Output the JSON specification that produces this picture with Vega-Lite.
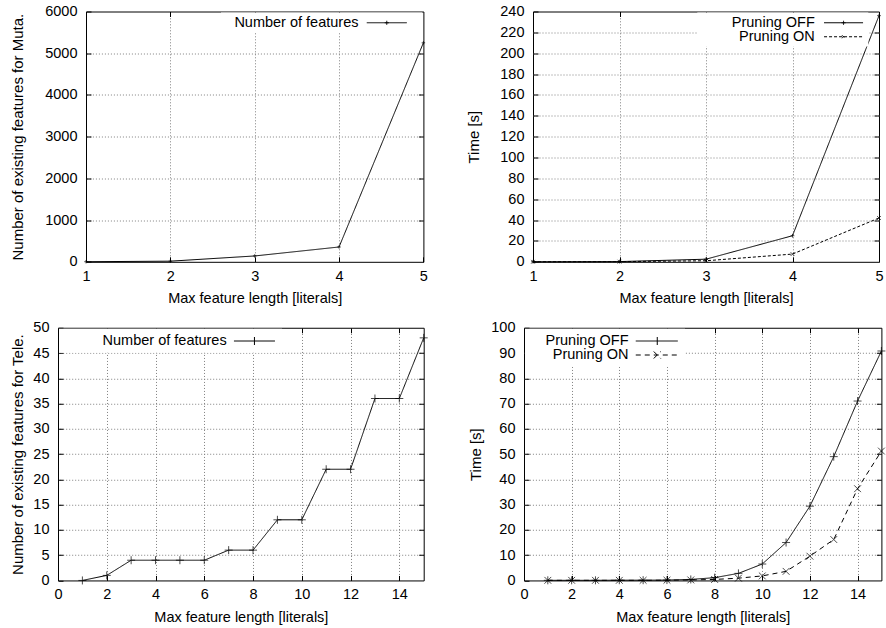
{
  "$schema": "https://vega.github.io/schema/vega-lite/v6.json",
  "padding": {"left": 0, "top": 2.5, "right": 0, "bottom": 0},
  "background": "white",
  "config": {
    "font": "Liberation Sans",
    "view": {"stroke": "black", "strokeWidth": 1},
    "axis": {
      "labelFont": "Liberation Sans", "labelFontSize": 14.5, "labelColor": "black",
      "titleFont": "Liberation Sans", "titleFontSize": 14.5, "titleFontWeight": "normal", "titleColor": "black",
      "domain": false, "grid": false, "ticks": true, "tickSize": -5, "tickColor": "black", "tickWidth": 1,
      "labelPadding": 14, "labelFlush": false, "labelOverlap": false,
      "gridColor": "#808080", "gridDash": [1, 2], "gridWidth": 1
    },
    "axisX": {"titlePadding": 9, "labelPadding": 12.5},
    "axisY": {"titleFontSize": 15},
    "legend": {"labelFont": "Liberation Sans", "labelFontSize": 14.5, "labelColor": "black", "labelAlign": "right", "symbolSize": 100, "rowPadding": -2.5, "fillColor": "white", "labelLimit": 400},
    "line": {"color": "black", "strokeWidth": 1},
    "point": {"color": "black", "filled": false, "strokeWidth": 1}
  },
  "datasets": {
    "muta": [
      {"len": 1, "value": 2, "series": "Number of features"},
      {"len": 2, "value": 15, "series": "Number of features"},
      {"len": 3, "value": 140, "series": "Number of features"},
      {"len": 4, "value": 355, "series": "Number of features"},
      {"len": 5, "value": 5250, "series": "Number of features"}
    ],
    "muta_time": [
      {"len": 1, "value": 0.05, "series": "Pruning OFF"},
      {"len": 2, "value": 0.2, "series": "Pruning OFF"},
      {"len": 3, "value": 2.5, "series": "Pruning OFF"},
      {"len": 4, "value": 25, "series": "Pruning OFF"},
      {"len": 5, "value": 236, "series": "Pruning OFF"},
      {"len": 1, "value": 0.05, "series": "Pruning ON"},
      {"len": 2, "value": 0.15, "series": "Pruning ON"},
      {"len": 3, "value": 1, "series": "Pruning ON"},
      {"len": 4, "value": 7.4, "series": "Pruning ON"},
      {"len": 5, "value": 42, "series": "Pruning ON"}
    ],
    "tele": [
      {"len": 1, "value": 0, "series": "Number of features"},
      {"len": 2, "value": 1, "series": "Number of features"},
      {"len": 3, "value": 4, "series": "Number of features"},
      {"len": 4, "value": 4, "series": "Number of features"},
      {"len": 5, "value": 4, "series": "Number of features"},
      {"len": 6, "value": 4, "series": "Number of features"},
      {"len": 7, "value": 6, "series": "Number of features"},
      {"len": 8, "value": 6, "series": "Number of features"},
      {"len": 9, "value": 12, "series": "Number of features"},
      {"len": 10, "value": 12, "series": "Number of features"},
      {"len": 11, "value": 22, "series": "Number of features"},
      {"len": 12, "value": 22, "series": "Number of features"},
      {"len": 13, "value": 36, "series": "Number of features"},
      {"len": 14, "value": 36, "series": "Number of features"},
      {"len": 15, "value": 48, "series": "Number of features"}
    ],
    "tele_time": [
      {"len": 1, "value": 0.05, "series": "Pruning OFF"},
      {"len": 2, "value": 0.05, "series": "Pruning OFF"},
      {"len": 3, "value": 0.05, "series": "Pruning OFF"},
      {"len": 4, "value": 0.1, "series": "Pruning OFF"},
      {"len": 5, "value": 0.1, "series": "Pruning OFF"},
      {"len": 6, "value": 0.15, "series": "Pruning OFF"},
      {"len": 7, "value": 0.4, "series": "Pruning OFF"},
      {"len": 8, "value": 1.1, "series": "Pruning OFF"},
      {"len": 9, "value": 2.8, "series": "Pruning OFF"},
      {"len": 10, "value": 6.5, "series": "Pruning OFF"},
      {"len": 11, "value": 15, "series": "Pruning OFF"},
      {"len": 12, "value": 29.4, "series": "Pruning OFF"},
      {"len": 13, "value": 49, "series": "Pruning OFF"},
      {"len": 14, "value": 71, "series": "Pruning OFF"},
      {"len": 15, "value": 90.8, "series": "Pruning OFF"},
      {"len": 1, "value": 0.05, "series": "Pruning ON"},
      {"len": 2, "value": 0.05, "series": "Pruning ON"},
      {"len": 3, "value": 0.05, "series": "Pruning ON"},
      {"len": 4, "value": 0.05, "series": "Pruning ON"},
      {"len": 5, "value": 0.05, "series": "Pruning ON"},
      {"len": 6, "value": 0.1, "series": "Pruning ON"},
      {"len": 7, "value": 0.2, "series": "Pruning ON"},
      {"len": 8, "value": 0.4, "series": "Pruning ON"},
      {"len": 9, "value": 0.9, "series": "Pruning ON"},
      {"len": 10, "value": 1.8, "series": "Pruning ON"},
      {"len": 11, "value": 3.6, "series": "Pruning ON"},
      {"len": 12, "value": 9.6, "series": "Pruning ON"},
      {"len": 13, "value": 16.2, "series": "Pruning ON"},
      {"len": 14, "value": 36.3, "series": "Pruning ON"},
      {"len": 15, "value": 51.2, "series": "Pruning ON"}
    ]
  },
  "columns": 1,
  "align": "none",
  "spacing": 12.25,
  "resolve": {"scale": {"strokeDash": "independent", "shape": "independent"}, "legend": {"strokeDash": "independent", "shape": "independent"}},
  "concat": [
    {
      "columns": 4,
      "align": "none",
      "spacing": 9,
      "resolve": {"scale": {"strokeDash": "independent", "shape": "independent"}, "legend": {"strokeDash": "independent", "shape": "independent"}},
      "concat": [
        {"width": 1, "height": 1, "data": {"values": []}, "mark": "point", "view": {"stroke": null}},
        {
          "width": 337.4, "height": 250.3,
          "data": {"name": "muta"},
          "layer": [
            {
              "mark": {"type": "line"},
              "encoding": {
                "x": {"field": "len", "type": "quantitative", "scale": {"domain": [1, 5], "nice": false, "zero": false}, "axis": {"orient": "bottom", "values": [1, 2, 3, 4, 5], "format": "d", "title": "Max feature length [literals]"}},
                "y": {"field": "value", "type": "quantitative", "scale": {"domain": [0, 6000], "nice": false}, "axis": {"orient": "left", "values": [0, 1000, 2000, 3000, 4000, 5000, 6000], "format": "d", "title": "Number of existing features for Muta.", "titlePadding": 18.9}},
                "strokeDash": {"field": "series", "type": "nominal", "scale": {"domain": ["Number of features"], "range": [[1, 0]]},
                  "legend": {"title": null, "orient": "top-right", "offset": 1, "padding": 3, "labelOffset": 120}}
              }
            },
            {
              "mark": {"type": "point", "size": 12, "shape": "M-1,0H1M0,-1V1"},
              "encoding": {
                "x": {"field": "len", "type": "quantitative", "axis": {"orient": "top", "values": [2, 3, 4], "labels": false, "title": null, "grid": true}},
                "y": {"field": "value", "type": "quantitative", "axis": {"orient": "right", "values": [1000, 2000, 3000, 4000, 5000], "labels": false, "title": null, "grid": true}}
              }
            },
            {
              "transform": [{"filter": "false"}],
              "mark": {"type": "point"},
              "encoding": {
                "shape": {"field": "series", "type": "nominal", "scale": {"domain": ["Number of features"], "range": ["M-1,0M27.1,0H35.1M30.7,0H31.5M31.1,-0.4V0.4M37.04,0"]},
                  "legend": {"title": null, "orient": "top-right", "offset": 1, "padding": 3, "labelOffset": 120}},
                "strokeDash": {"field": "series", "type": "nominal",
                  "legend": {"title": null, "orient": "top-right", "offset": 1, "padding": 3, "labelOffset": 120}}
              }
            }
          ]
        },
        {"width": 19.3, "height": 1, "data": {"values": []}, "mark": "point", "view": {"stroke": null}},
        {
          "width": 346, "height": 250.3,
          "data": {"name": "muta_time"},
          "layer": [
            {
              "mark": {"type": "line"},
              "encoding": {
                "x": {"field": "len", "type": "quantitative", "scale": {"domain": [1, 5], "nice": false, "zero": false}, "axis": {"orient": "bottom", "values": [1, 2, 3, 4, 5], "format": "d", "title": "Max feature length [literals]"}},
                "y": {"field": "value", "type": "quantitative", "scale": {"domain": [0, 240], "nice": false}, "axis": {"orient": "left", "values": [0, 20, 40, 60, 80, 100, 120, 140, 160, 180, 200, 220, 240], "format": "d", "title": "Time [s]", "titlePadding": 18.3}},
                "strokeDash": {"field": "series", "type": "nominal", "scale": {"domain": ["Pruning OFF", "Pruning ON"], "range": [[1, 0], [3, 2]]},
                  "legend": {"title": null, "orient": "none", "legendX": 164.3, "legendY": 1, "padding": 3, "labelOffset": 100}}
              }
            },
            {
              "transform": [{"filter": "datum.series == 'Pruning OFF'"}],
              "mark": {"type": "point", "size": 14, "shape": "M-1,0H1M0,-1V1"},
              "encoding": {
                "x": {"field": "len", "type": "quantitative", "axis": {"orient": "top", "values": [2, 3, 4], "labels": false, "title": null, "grid": true}},
                "y": {"field": "value", "type": "quantitative", "axis": {"orient": "right", "values": [20, 40, 60, 80, 100, 120, 140, 160, 180, 200, 220], "labels": false, "title": null, "grid": true}}
              }
            },
            {
              "transform": [{"filter": "datum.series == 'Pruning ON'"}],
              "mark": {"type": "point", "size": 14, "shape": "M-1,-1L1,1M-1,1L1,-1"},
              "encoding": {
                "x": {"field": "len", "type": "quantitative", "axis": null},
                "y": {"field": "value", "type": "quantitative", "axis": null}
              }
            },
            {
              "transform": [{"filter": "false"}],
              "mark": {"type": "point"},
              "encoding": {
                "shape": {"field": "series", "type": "nominal", "scale": {"domain": ["Pruning OFF", "Pruning ON"], "range": ["M-1,0M23.3,0H31.1M26.8,0H27.6M27.2,-0.4V0.4", "M-1,0M23.3,0H31.1M26.9,-0.3L27.5,0.3M26.9,0.3L27.5,-0.3"]},
                  "legend": {"title": null, "orient": "none", "legendX": 164.3, "legendY": 1, "padding": 3, "labelOffset": 100}},
                "strokeDash": {"field": "series", "type": "nominal",
                  "legend": {"title": null, "orient": "none", "legendX": 164.3, "legendY": 1, "padding": 3, "labelOffset": 100}}
              }
            }
          ]
        }
      ]
    },
    {
      "columns": 4,
      "align": "none",
      "spacing": 9,
      "resolve": {"scale": {"strokeDash": "independent", "shape": "independent"}, "legend": {"strokeDash": "independent", "shape": "independent"}},
      "concat": [
        {"width": 1, "height": 1, "data": {"values": []}, "mark": "point", "view": {"stroke": null}},
        {
          "width": 365.7, "height": 252.7,
          "data": {"name": "tele"},
          "layer": [
            {
              "mark": {"type": "line"},
              "encoding": {
                "x": {"field": "len", "type": "quantitative", "scale": {"domain": [0, 15], "nice": false, "zero": false}, "axis": {"orient": "bottom", "values": [0, 2, 4, 6, 8, 10, 12, 14], "format": "d", "title": "Max feature length [literals]"}},
                "y": {"field": "value", "type": "quantitative", "scale": {"domain": [0, 50], "nice": false}, "axis": {"orient": "left", "values": [0, 5, 10, 15, 20, 25, 30, 35, 40, 45, 50], "format": "d", "title": "Number of existing features for Tele.", "titlePadding": 7}},
                "strokeDash": {"field": "series", "type": "nominal", "scale": {"domain": ["Number of features"], "range": [[1, 0]]},
                  "legend": {"title": null, "orient": "top-left", "offset": 1, "padding": 5, "labelOffset": 148.2}}
              }
            },
            {
              "mark": {"type": "point", "size": 64, "shape": "M-1,0H1M0,-1V1"},
              "encoding": {
                "x": {"field": "len", "type": "quantitative", "axis": {"orient": "top", "values": [2, 4, 6, 8, 10, 12, 14], "labels": false, "title": null, "grid": true}},
                "y": {"field": "value", "type": "quantitative", "axis": {"orient": "right", "values": [5, 10, 15, 20, 25, 30, 35, 40, 45], "labels": false, "title": null, "grid": true}}
              }
            },
            {
              "transform": [{"filter": "false"}],
              "mark": {"type": "point"},
              "encoding": {
                "shape": {"field": "series", "type": "nominal", "scale": {"domain": ["Number of features"], "range": ["M-1,0M32.54,0H40.74M36.64,-0.8V0.8"]},
                  "legend": {"title": null, "orient": "top-left", "offset": 1, "padding": 5, "labelOffset": 148.2}},
                "strokeDash": {"field": "series", "type": "nominal",
                  "legend": {"title": null, "orient": "top-left", "offset": 1, "padding": 5, "labelOffset": 148.2}}
              }
            }
          ]
        },
        {"width": 18.5, "height": 1, "data": {"values": []}, "mark": "point", "view": {"stroke": null}},
        {
          "width": 357.4, "height": 252.7,
          "data": {"name": "tele_time"},
          "layer": [
            {
              "mark": {"type": "line"},
              "encoding": {
                "x": {"field": "len", "type": "quantitative", "scale": {"domain": [0, 15], "nice": false, "zero": false}, "axis": {"orient": "bottom", "values": [0, 2, 4, 6, 8, 10, 12, 14], "format": "d", "title": "Max feature length [literals]"}},
                "y": {"field": "value", "type": "quantitative", "scale": {"domain": [0, 100], "nice": false}, "axis": {"orient": "left", "values": [0, 10, 20, 30, 40, 50, 60, 70, 80, 90, 100], "format": "d", "title": "Time [s]", "titlePadding": 6.9}},
                "strokeDash": {"field": "series", "type": "nominal", "scale": {"domain": ["Pruning OFF", "Pruning ON"], "range": [[1, 0], [5, 4]]},
                  "legend": {"title": null, "orient": "top-left", "offset": 1, "padding": 5, "labelOffset": 84}}
              }
            },
            {
              "transform": [{"filter": "datum.series == 'Pruning OFF'"}],
              "mark": {"type": "point", "size": 64, "shape": "M-1,0H1M0,-1V1"},
              "encoding": {
                "x": {"field": "len", "type": "quantitative", "axis": {"orient": "top", "values": [2, 4, 6, 8, 10, 12, 14], "labels": false, "title": null, "grid": true}},
                "y": {"field": "value", "type": "quantitative", "axis": {"orient": "right", "values": [10, 20, 30, 40, 50, 60, 70, 80, 90], "labels": false, "title": null, "grid": true}}
              }
            },
            {
              "transform": [{"filter": "datum.series == 'Pruning ON'"}],
              "mark": {"type": "point", "size": 64, "shape": "M-0.85,-0.85L0.85,0.85M-0.85,0.85L0.85,-0.85"},
              "encoding": {
                "x": {"field": "len", "type": "quantitative", "axis": null},
                "y": {"field": "value", "type": "quantitative", "axis": null}
              }
            },
            {
              "transform": [{"filter": "false"}],
              "mark": {"type": "point"},
              "encoding": {
                "shape": {"field": "series", "type": "nominal", "scale": {"domain": ["Pruning OFF", "Pruning ON"], "range": ["M-1,0M19.7,0H28.1M24,-0.8V0.8", "M-1,0M19.7,0H28.1M23.3,-0.7L24.7,0.7M23.3,0.7L24.7,-0.7"]},
                  "legend": {"title": null, "orient": "top-left", "offset": 1, "padding": 5, "labelOffset": 84}},
                "strokeDash": {"field": "series", "type": "nominal",
                  "legend": {"title": null, "orient": "top-left", "offset": 1, "padding": 5, "labelOffset": 84}}
              }
            }
          ]
        }
      ]
    }
  ]
}
